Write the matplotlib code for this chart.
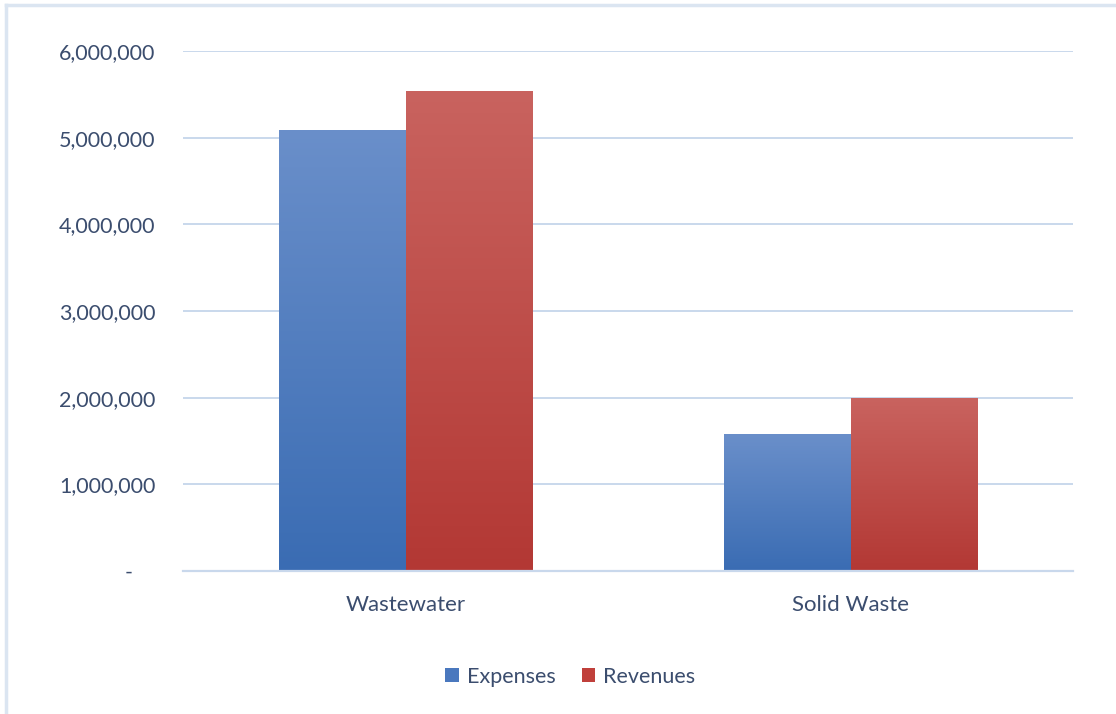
import numpy as np
import matplotlib
matplotlib.use("Agg")
import matplotlib.pyplot as plt
from matplotlib.colors import LinearSegmentedColormap
from matplotlib.lines import Line2D
from matplotlib.patches import Patch
from matplotlib.ticker import FuncFormatter

# data
categories = ["Wastewater", "Solid Waste"]
expenses = [5090000, 1580000]
revenues = [5540000, 1995000]
series_names = ["Expenses", "Revenues"]

plt.rcParams['font.family'] = ['Lato', 'DejaVu Sans']
text_col = '#3b4d6e'
grid_col = '#c9d8ec'

fig = plt.figure(figsize=(11.16, 7.14), dpi=100)
ax = fig.add_axes([0.164, 0.2003, 0.7975, 0.7283])

x = np.arange(len(categories))
w = 0.285
blue = LinearSegmentedColormap.from_list('b', ['#3a6cb3', '#6a8fca'])
red = LinearSegmentedColormap.from_list('r', ['#b33834', '#c9635f'])
grad = np.linspace(0, 1, 256).reshape(-1, 1)

for vals, offs, cmap in [(expenses, -w / 2, blue), (revenues, w / 2, red)]:
    bars = ax.bar(x + offs, vals, w, color='none', edgecolor='none', zorder=3)
    for b in bars:
        x0, y0 = b.get_x(), b.get_y()
        im = ax.imshow(grad, cmap=cmap, origin='lower', aspect='auto',
                       extent=(x0, x0 + b.get_width(), y0, y0 + b.get_height()),
                       zorder=3)
        im.set_clip_path(b)

ax.set_xlim(-0.5, 1.5)
ax.set_ylim(0, 6000000)
ax.set_yticks(np.arange(0, 6000001, 1000000))
# accounting style: zero shown as a dash
ax.yaxis.set_major_formatter(FuncFormatter(lambda v, p: '-    ' if v == 0 else f'{int(v):,}'))
ax.set_xticks(x)
ax.set_xticklabels(categories, fontsize=16)
ax.grid(axis='y', color=grid_col, linewidth=1.4, zorder=0)
ax.axhline(0, color=grid_col, linewidth=1.6, zorder=4, clip_on=False)
for s in ax.spines.values():
    s.set_visible(False)
ax.tick_params(axis='both', length=0, colors=text_col)
ax.tick_params(axis='y', pad=20, labelsize=15.5)
ax.tick_params(axis='x', pad=17)

handles = [Patch(facecolor='#4a78be'), Patch(facecolor='#c0403b')]
fig.legend(handles, series_names, loc='center', bbox_to_anchor=(0.511, 0.052), ncol=2,
           frameon=False, fontsize=15.5, labelcolor=text_col, handlelength=0.65,
           handleheight=0.65, handletextpad=0.35, columnspacing=1.2)

# light frame at top and left edges
fig.add_artist(Line2D([6 / 1116, 1], [1 - 5 / 714, 1 - 5 / 714], color='#dbe5f1', linewidth=2.5))
fig.add_artist(Line2D([6 / 1116, 6 / 1116], [0, 1 - 5 / 714], color='#dbe5f1', linewidth=2.5))

fig.savefig('out.png', dpi=100, facecolor='white')
